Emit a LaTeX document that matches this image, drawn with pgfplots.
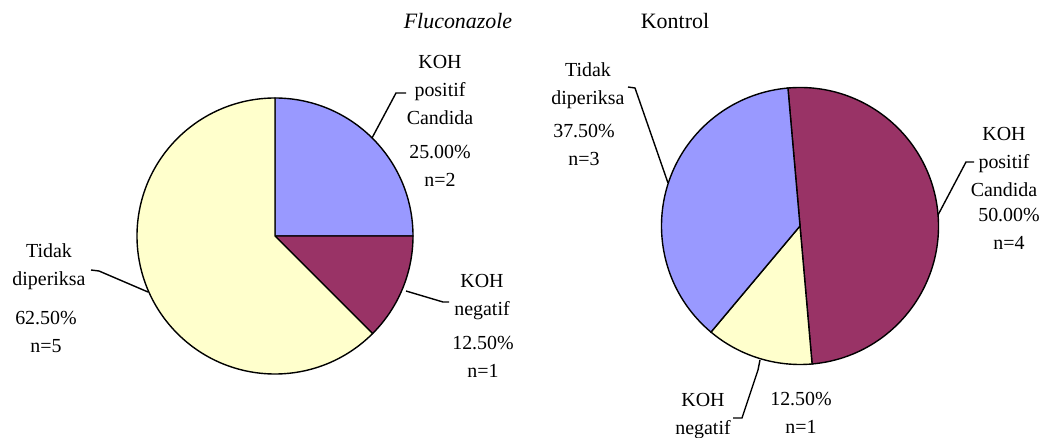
\documentclass[border=0pt]{standalone}
\usepackage{pgfplots}
\pgfplotsset{compat=1.18}
\usepackage{fontspec}
\setmainfont{Liberation Serif}
\definecolor{cblue}{HTML}{9999FF}
\definecolor{cmaroon}{HTML}{993366}
\definecolor{cyellow}{HTML}{FFFFCC}
\tikzset{lbl/.style={font=\fontsize{10}{14}\selectfont, align=center, inner sep=0pt}}
\begin{document}
\begin{tikzpicture}
\begin{axis}[
  width=523.5bp, height=219bp, scale only axis,
  xmin=0, xmax=1047, ymin=0, ymax=438,
  hide axis, clip=false,
]
\path (axis cs:0,0) rectangle (axis cs:1047,438);
% ---- Fluconazole pie: n = 2 (KOH positif), 1 (KOH negatif), 5 (Tidak diperiksa); start 90, clockwise
\filldraw[fill=cblue, draw=black, line width=0.7pt] (axis cs:275,202) -- ++(90:69bp)
  arc[start angle=90, end angle={90-360*2/8}, radius=69bp] -- cycle;
\filldraw[fill=cmaroon, draw=black, line width=0.7pt] (axis cs:275,202) -- ++({90-360*2/8}:69bp)
  arc[start angle={90-360*2/8}, end angle={90-360*3/8}, radius=69bp] -- cycle;
\filldraw[fill=cyellow, draw=black, line width=0.7pt] (axis cs:275,202) -- ++({90-360*3/8}:69bp)
  arc[start angle={90-360*3/8}, end angle={90-360*8/8}, radius=69bp] -- cycle;
% ---- Kontrol pie: n = 4 (KOH positif), 1 (KOH negatif), 3 (Tidak diperiksa); start 95, clockwise
\filldraw[fill=cmaroon, draw=black, line width=0.7pt] (axis cs:800,212) -- ++(95:69.25bp)
  arc[start angle=95, end angle={95-360*4/8}, radius=69.25bp] -- cycle;
\filldraw[fill=cyellow, draw=black, line width=0.7pt] (axis cs:800,212) -- ++({95-360*4/8}:69.25bp)
  arc[start angle={95-360*4/8}, end angle={95-360*5/8}, radius=69.25bp] -- cycle;
\filldraw[fill=cblue, draw=black, line width=0.7pt] (axis cs:800,212) -- ++({95-360*5/8}:69.25bp)
  arc[start angle={95-360*5/8}, end angle={95-360*8/8}, radius=69.25bp] -- cycle;
% ---- leader lines
\addplot[black, line width=0.7pt] coordinates {(372,300) (396,345) (406,345)};
\addplot[black, line width=0.7pt] coordinates {(406,147) (443,136) (449,136)};
\addplot[black, line width=0.7pt] coordinates {(91,168) (99,167) (148,146)};
\addplot[black, line width=0.7pt] coordinates {(628,351) (635,350) (668,255)};
\addplot[black, line width=0.7pt] coordinates {(974,276) (966,276) (938,223)};
\addplot[black, line width=0.7pt] coordinates {(733,20) (742,20) (758,68) (760,78)};
% ---- titles
\node[lbl, font=\fontsize{11}{14}\selectfont\itshape] at (axis cs:458,417) {Fluconazole};
\node[lbl, font=\fontsize{11}{14}\selectfont] at (axis cs:675,417) {Kontrol};
% ---- labels Fluconazole
\node[lbl] at (axis cs:440,348) {KOH\\positif\\Candida};
\node[lbl] at (axis cs:440,272) {25.00\%\\n=2};
\node[lbl] at (axis cs:482,141) {KOH\\negatif};
\node[lbl] at (axis cs:483,81) {12.50\%\\n=1};
\node[lbl] at (axis cs:49,171) {Tidak\\diperiksa};
\node[lbl] at (axis cs:46,106) {62.50\%\\n=5};
% ---- labels Kontrol
\node[lbl] at (axis cs:588,352) {Tidak\\diperiksa};
\node[lbl] at (axis cs:584,293) {37.50\%\\n=3};
\node[lbl] at (axis cs:1004,276) {KOH\\positif\\Candida};
\node[lbl] at (axis cs:1009,209) {50.00\%\\n=4};
\node[lbl] at (axis cs:703,22) {KOH\\negatif};
\node[lbl] at (axis cs:801,25) {12.50\%\\n=1};
\end{axis}
\pgfresetboundingbox
\path (current axis.south west) rectangle (current axis.north east);
\end{tikzpicture}
\end{document}
